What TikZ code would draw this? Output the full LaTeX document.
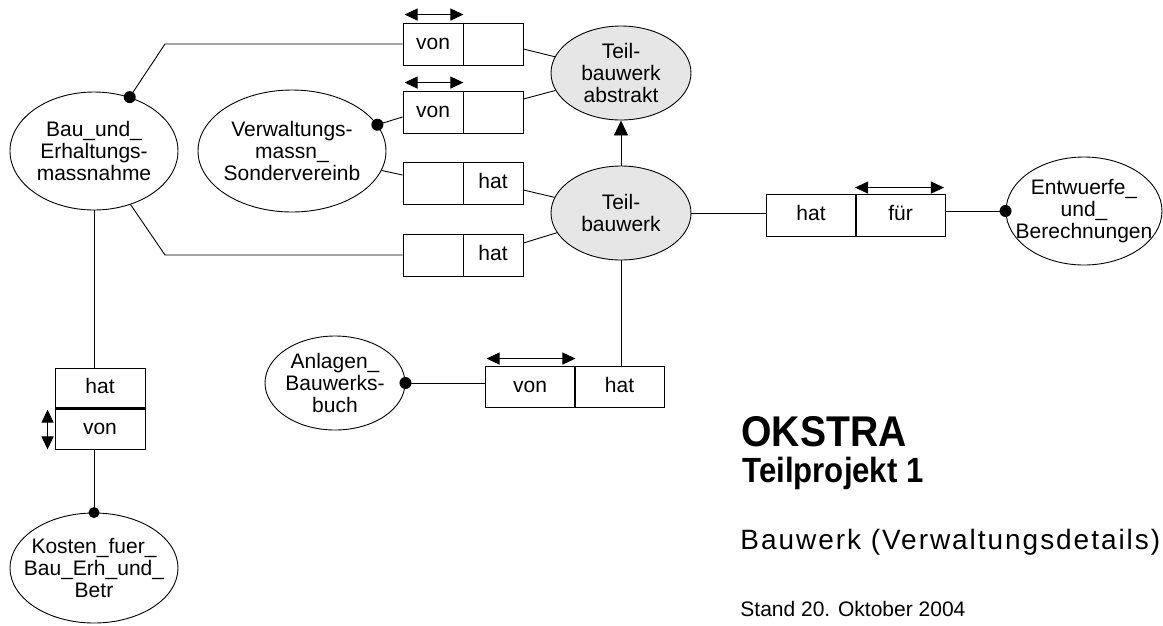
\documentclass[tikz,border=0pt]{standalone}
\usepackage{fontspec}
\setmainfont{Liberation Sans}
\newfontfamily\okfont[FakeStretch=0.91]{Liberation Sans}
\newfontfamily\tpfont[FakeStretch=0.89]{Liberation Sans}
\newfontfamily\bwfont[LetterSpace=7]{Liberation Sans}
\usetikzlibrary{shapes.geometric,arrows.meta,calc}
\definecolor{entgrey}{RGB}{230,230,230}
\begin{document}
\begin{tikzpicture}[x=1pt,y=-1pt,line width=0.9pt,
  lbl/.style={align=center,font=\fontsize{21}{22}\selectfont,inner sep=0pt},
  ent/.style={ellipse,draw,inner sep=0pt,label={[lbl]center:#1}},
  greyent/.style={ent={#1},fill=entgrey},
  cell/.style={rectangle,draw,inner sep=0pt,minimum width=60pt,minimum height=42pt,
    text height=11pt,text depth=0pt,font=\fontsize{21}{24}\selectfont},
  wcell/.style={cell,minimum width=90pt},
  dbl/.style={{Triangle[length=13pt,width=12pt]}-{Triangle[length=13pt,width=12pt]}},
  dot/.style={radius=6pt}]
\useasboundingbox (0,0) rectangle (1163,625);

% entities
\node[ent={Bau\_und\_\\Erhaltungs-\\massnahme},minimum width=168pt,minimum height=118pt] (bau) at (94,151) {};
\node[ent={Verwaltungs-\\massn\_\\Sondervereinb},minimum width=188pt,minimum height=122pt] (verw) at (292,151) {};
\node[greyent={Teil-\\bauwerk\\abstrakt},minimum width=140pt,minimum height=94pt] (tba) at (621,73) {};
\node[greyent={Teil-\\bauwerk},minimum width=140pt,minimum height=94pt] (tb) at (621,213) {};
\node[ent={Entwuerfe\_\\und\_\\Berechnungen},minimum width=156pt,minimum height=108pt] (ent) at (1084,211) {};
\node[ent={Anlagen\_\\Bauwerks-\\buch},minimum width=140pt,minimum height=94pt] (anl) at (335,383) {};
\node[ent={Kosten\_fuer\_\\Bau\_Erh\_und\_\\Betr},minimum width=168pt,minimum height=110pt] (kos) at (94,568) {};

% relation boxes
\node[cell] (b1l) at (433,44) {von};
\node[cell] (b1r) at (493,44) {};
\node[cell] (b2l) at (433,112) {von};
\node[cell] (b2r) at (493,112) {};
\node[cell] (b3l) at (433,183) {};
\node[cell] (b3r) at (493,183) {hat};
\node[cell] (b4l) at (433,255) {};
\node[cell] (b4r) at (493,255) {hat};
\node[wcell] (fh) at (811,215) {hat};
\node[wcell] (ff) at (900.5,215) {für};
\node[wcell,minimum height=41pt] (bv) at (530,386.5) {von};
\node[wcell,minimum height=41pt] (bh) at (619.5,386.5) {hat};
\node[wcell,minimum height=40pt] (vhat) at (100,388) {hat};
\node[wcell,minimum height=41pt] (vvon) at (100,428.5) {von};
\draw[line width=2.2pt] (vhat.south west) -- (vhat.south east);

% bend points
\coordinate (c1) at (165,44);
\coordinate (c4) at (165,255);

% connectors
\draw (b1l.west) -- (c1) -- coordinate[pos=1] (d1) (bau);
\fill (d1) circle[dot];
\draw (b4l.west) -- (c4) -- (bau);
\draw ($(b2l.west)+(0,5)$) -- coordinate[pos=1] (d2) (verw);
\fill (d2) circle[dot];
\draw ($(b3l.west)+(0,-8)$) -- (verw);
\draw ($(b1r.east)+(0,5)$) -- (tba);
\draw ($(b2r.east)+(0,-13)$) -- (tba);
\draw ($(b3r.east)+(0,7)$) -- (tb);
\draw ($(b4r.east)+(0,-12)$) -- (tb);
\draw[-{Triangle[length=15pt,width=14pt]}] (tb.north) -- (tba.south);
\draw (tb.east) -- (tb.east -| fh.west);
\draw (ff.east |- ent.west) -- (ent.west);
\fill (ent.west) circle[dot];
\draw (tb.south) -- (tb.south |- bh.north);
\draw (anl.east) -- (anl.east -| bv.west);
\fill (anl.east) circle[dot];
\draw (bau.south) -- (bau.south |- vhat.north);
\draw (kos.north |- vvon.south) -- (kos.north);
\fill (kos.north) circle[radius=5.5pt];

% direction arrows
\draw[dbl] ($(b1l.north west)+(2,-8)$) -- ($(b1l.north east)+(0,-8)$);
\draw[dbl] ($(b2l.north west)+(2,-8)$) -- ($(b2l.north east)+(0,-8)$);
\draw[dbl] ($(bv.north west)+(2,-7)$) -- ($(bv.north east)+(0,-7)$);
\draw[dbl] ($(ff.north west)+(0,-6)$) -- ($(ff.north east)+(-2,-6)$);
\draw[dbl] ($(vvon.north west)+(-7,2)$) -- ($(vvon.south west)+(-7,0)$);

% titles
\node[anchor=base west,inner sep=0pt,font=\okfont\bfseries\fontsize{43}{43}\selectfont] (okstra) at (741,446) {OKSTRA};
\node[anchor=base west,inner sep=0pt,font=\tpfont\bfseries\fontsize{35}{35}\selectfont] (tp) at (742,482) {Teilprojekt 1};
\node[anchor=base west,inner sep=0pt,font=\bwfont\fontsize{28}{28}\selectfont] (bw) at (740,549) {Bauwerk (Verwaltungsdetails)};
\node[anchor=base west,inner sep=0pt,font=\fontsize{21}{21}\selectfont] (stand) at (740,616) {Stand 20. Oktober 2004};
\end{tikzpicture}
\end{document}
